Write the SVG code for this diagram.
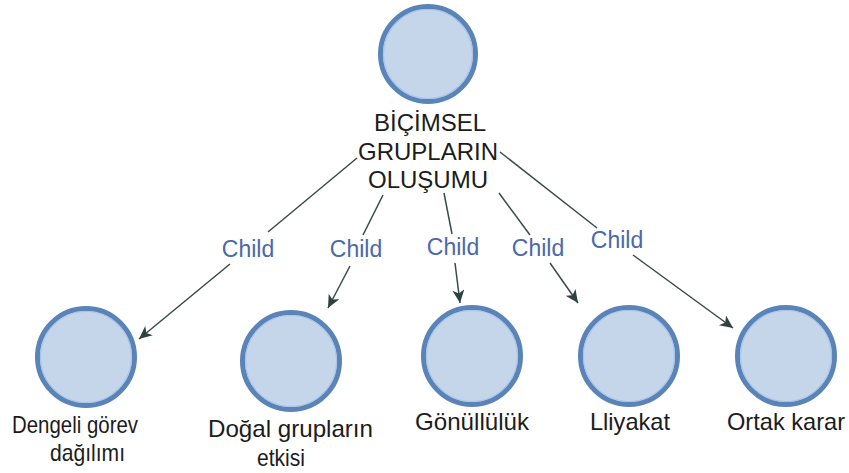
<svg xmlns="http://www.w3.org/2000/svg" width="849" height="473" viewBox="0 0 849 473">
<style>
.node circle{fill:#c6d6ea;stroke:#5a84b8;stroke-width:5}
.node .inner{fill:none;stroke:#a9c5e8;stroke-width:1.2}
.lbl{font-family:"Liberation Sans",Arial,sans-serif;font-size:24px;fill:#1c1c1c}
.edge{stroke:#3c4a48;stroke-width:1.5;fill:none}
.el{font-family:"Liberation Sans",Arial,sans-serif;font-size:23px;fill:#4b68aa}
</style>
<defs>
<marker id="arr" markerUnits="userSpaceOnUse" markerWidth="14" markerHeight="14" refX="13" refY="6" orient="auto">
<path d="M0,0 L13,6 L0,12 L3.5,6 z" fill="#2f4240"/>
</marker>
</defs>
<rect width="849" height="473" fill="#ffffff"/>
<g id="connectors">
<g id="e1"><path class="edge" d="M357,158 L268,232"/><path class="edge" d="M230,264 L139,339" marker-end="url(#arr)"/><text class="el" x="248" y="257" text-anchor="middle">Child</text></g>
<g id="e2"><path class="edge" d="M383,195 L363,235"/><path class="edge" d="M350,266 L328,308" marker-end="url(#arr)"/><text class="el" x="356" y="257" text-anchor="middle">Child</text></g>
<g id="e3"><path class="edge" d="M444,193 L452,234"/><path class="edge" d="M455,263 L460,303" marker-end="url(#arr)"/><text class="el" x="453" y="255" text-anchor="middle">Child</text></g>
<g id="e4"><path class="edge" d="M499,193 L530,235"/><path class="edge" d="M550,263 L578,303" marker-end="url(#arr)"/><text class="el" x="538" y="256" text-anchor="middle">Child</text></g>
<g id="e5"><path class="edge" d="M500,152 L597,228"/><path class="edge" d="M633,255 L733,328" marker-end="url(#arr)"/><text class="el" x="617" y="248" text-anchor="middle">Child</text></g>
</g>
<g id="n0" class="node">
<circle cx="428" cy="54" r="47.5"/><circle class="inner" cx="428" cy="54" r="44.5"/>
<text class="lbl" x="430" y="131" text-anchor="middle">BİÇİMSEL</text>
<text class="lbl" x="428" y="160" text-anchor="middle">GRUPLARIN</text>
<text class="lbl" x="428" y="188" text-anchor="middle">OLUŞUMU</text>
</g>
<g id="n1" class="node">
<circle cx="86" cy="357" r="48.5"/><circle class="inner" cx="86" cy="357" r="45.5"/>
<text class="lbl" x="12" y="433" textLength="126" lengthAdjust="spacingAndGlyphs">Dengeli görev</text>
<text class="lbl" x="50" y="461" textLength="75" lengthAdjust="spacingAndGlyphs">dağılımı</text>
</g>
<g id="n2" class="node">
<circle cx="291" cy="361" r="48.5"/><circle class="inner" cx="291" cy="361" r="45.5"/>
<text class="lbl" x="208" y="437" textLength="165" lengthAdjust="spacingAndGlyphs">Doğal grupların</text>
<text class="lbl" x="257" y="466" textLength="48" lengthAdjust="spacingAndGlyphs">etkisi</text>
</g>
<g id="n3" class="node">
<circle cx="472" cy="356" r="48.5"/><circle class="inner" cx="472" cy="356" r="45.5"/>
<text class="lbl" x="415" y="430" textLength="114" lengthAdjust="spacingAndGlyphs">Gönüllülük</text>
</g>
<g id="n4" class="node">
<circle cx="629" cy="356" r="48.5"/><circle class="inner" cx="629" cy="356" r="45.5"/>
<text class="lbl" x="590" y="430" textLength="80" lengthAdjust="spacingAndGlyphs">Lliyakat</text>
</g>
<g id="n5" class="node">
<circle cx="786" cy="356" r="48.5"/><circle class="inner" cx="786" cy="356" r="45.5"/>
<text class="lbl" x="727" y="430" textLength="118" lengthAdjust="spacingAndGlyphs">Ortak karar</text>
</g>
</svg>
